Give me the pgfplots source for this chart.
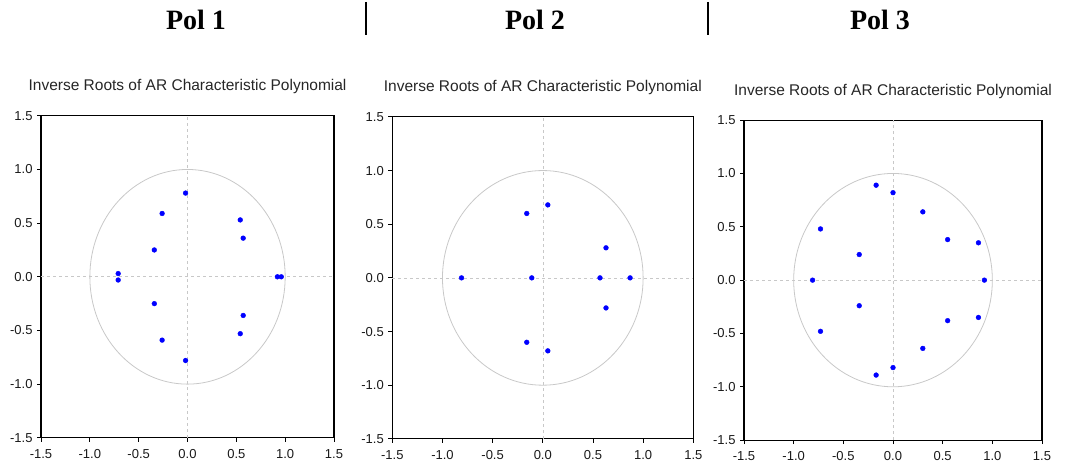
\documentclass[border=0pt]{standalone}
\usepackage{fontspec}
\setmainfont{Liberation Sans}
\newfontfamily\titleserif{Liberation Serif}
\usepackage{pgfplots}
\pgfplotsset{compat=1.18}

\definecolor{rootblue}{RGB}{0,0,255}
\definecolor{refgrey}{RGB}{200,200,200}

\pgfplotsset{
  rootplot/.style={
    scale only axis,
    anchor=south west,
    xmin=-1.5, xmax=1.5, ymin=-1.5, ymax=1.5,
    xtick={-1.5,-1,-0.5,0,0.5,1,1.5},
    ytick={-1.5,-1,-0.5,0,0.5,1,1.5},
    tick align=outside,
    tick pos=left,
    major tick length=4pt,
    tick style={black, line width=0.8pt},
    axis line style={black, line width=1.1pt},
    /pgf/number format/assume math mode=true,
    /pgf/number format/.cd, fixed, fixed zerofill, precision=1,
    /pgfplots/.cd,
    tick label style={font=\fontsize{13}{15}\selectfont, text=black!90},
    xticklabel style={yshift=-4pt},
    yticklabel style={xshift=-1pt},
    title={Inverse Roots of AR Characteristic Polynomial},
    title style={font=\fontsize{15.5}{17}\selectfont, at={(0.5,1)}, anchor=base, yshift=19pt, text=black!85},
    clip=false,
  },
  rootmarks/.style={only marks, mark=*, mark size=2.4pt, color=rootblue, mark options={draw=rootblue, fill=rootblue}},
}

\newcommand{\unitcircle}{%
  \draw[refgrey, dashed, line width=0.6pt] (axis cs:0,-1.5) -- (axis cs:0,1.5);
  \draw[refgrey, dashed, line width=0.6pt] (axis cs:-1.5,0) -- (axis cs:1.5,0);
  \draw[refgrey, line width=0.8pt] (axis cs:0,0) ellipse [x radius=1, y radius=1];
}

\begin{document}
\begin{tikzpicture}[x=1pt,y=1pt]
\path[use as bounding box] (0,0) rectangle (1067,470);

% headings
\node[font=\titleserif\fontsize{28}{30}\selectfont\bfseries] at (196,450) {Pol 1};
\node[font=\titleserif\fontsize{28}{30}\selectfont\bfseries] at (535,450) {Pol 2};
\node[font=\titleserif\fontsize{28}{30}\selectfont\bfseries] at (880,450) {Pol 3};
\draw[black, line width=2pt] (366,468) -- (366,435);
\draw[black, line width=2pt] (708,468) -- (708,435);

% Pol 1
\begin{axis}[rootplot, at={(42,30)}, width=293pt, height=322pt]
  \unitcircle
  \addplot[rootmarks] coordinates {
    (-0.02,0.78) (-0.02,-0.78)
    (-0.26,0.59) (-0.26,-0.59)
    (-0.34,0.25) (-0.34,-0.25)
    (-0.71,0.03) (-0.71,-0.03)
    (0.54,0.53) (0.54,-0.53)
    (0.57,0.36) (0.57,-0.36)
    (0.92,0) (0.96,0)
  };
\end{axis}

% Pol 2
\begin{axis}[rootplot, at={(391,29)}, width=301pt, height=322pt]
  \unitcircle
  \addplot[rootmarks] coordinates {
    (0.05,0.68) (0.05,-0.68)
    (-0.16,0.60) (-0.16,-0.60)
    (0.63,0.28) (0.63,-0.28)
    (-0.81,0) (-0.11,0) (0.57,0) (0.87,0)
  };
\end{axis}

% Pol 3
\begin{axis}[rootplot, at={(749,28)}, width=298pt, height=320pt]
  \unitcircle
  \addplot[rootmarks] coordinates {
    (-0.17,0.89) (-0.17,-0.89)
    (0.00,0.82) (0.00,-0.82)
    (0.30,0.64) (0.30,-0.64)
    (0.55,0.38) (0.55,-0.38)
    (0.86,0.35) (0.86,-0.35)
    (-0.73,0.48) (-0.73,-0.48)
    (-0.34,0.24) (-0.34,-0.24)
    (-0.81,0) (0.92,0)
  };
\end{axis}
\end{tikzpicture}
\end{document}
